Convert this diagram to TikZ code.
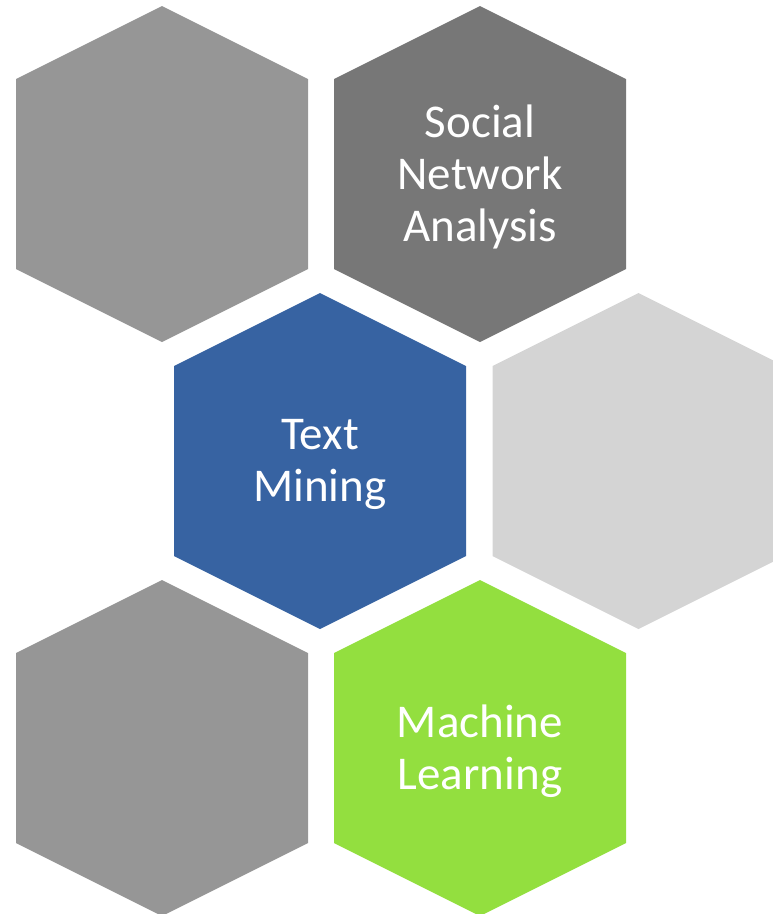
\documentclass[tikz,border=0pt]{standalone}
\usepackage{fontspec}
\setmainfont{Carlito}
\definecolor{hexgray}{HTML}{969696}
\definecolor{hexdark}{HTML}{777777}
\definecolor{hexlight}{HTML}{D4D4D4}
\definecolor{hexblue}{HTML}{3763A2}
\definecolor{hexgreen}{HTML}{93DF3F}
\tikzset{
  hexa/.pic={\fill[pic actions] (0,-168) -- (146,-95) -- (146,95) -- (0,168) -- (-146,95) -- (-146,-95) -- cycle;},
  lbl/.style={text=white, align=center, inner sep=0pt, yshift=-3pt, font=\fontsize{47}{52}\selectfont}
}
\begin{document}
\begin{tikzpicture}[x=1pt,y=-1pt]
\useasboundingbox (0,0) rectangle (773,914);
\clip (0,0) rectangle (773,914);
\coordinate (a) at (162,174);
\coordinate (b) at (480,174);
\coordinate (c) at (320,461);
\coordinate (d) at (638.5,461);
\coordinate (e) at (162,748);
\coordinate (f) at (480,748);
\pic[fill=hexgray] at (a) {hexa};
\pic[fill=hexdark] at (b) {hexa};
\pic[fill=hexblue] at (c) {hexa};
\pic[fill=hexlight] at (d) {hexa};
\pic[fill=hexgray] at (e) {hexa};
\pic[fill=hexgreen] at (f) {hexa};
\node[lbl] (tb) at (b) {Social\\Network\\Analysis};
\node[lbl] (tc) at (c) {Text\\Mining};
\node[lbl] (tf) at (f) {Machine\\Learning};
\end{tikzpicture}
\end{document}
